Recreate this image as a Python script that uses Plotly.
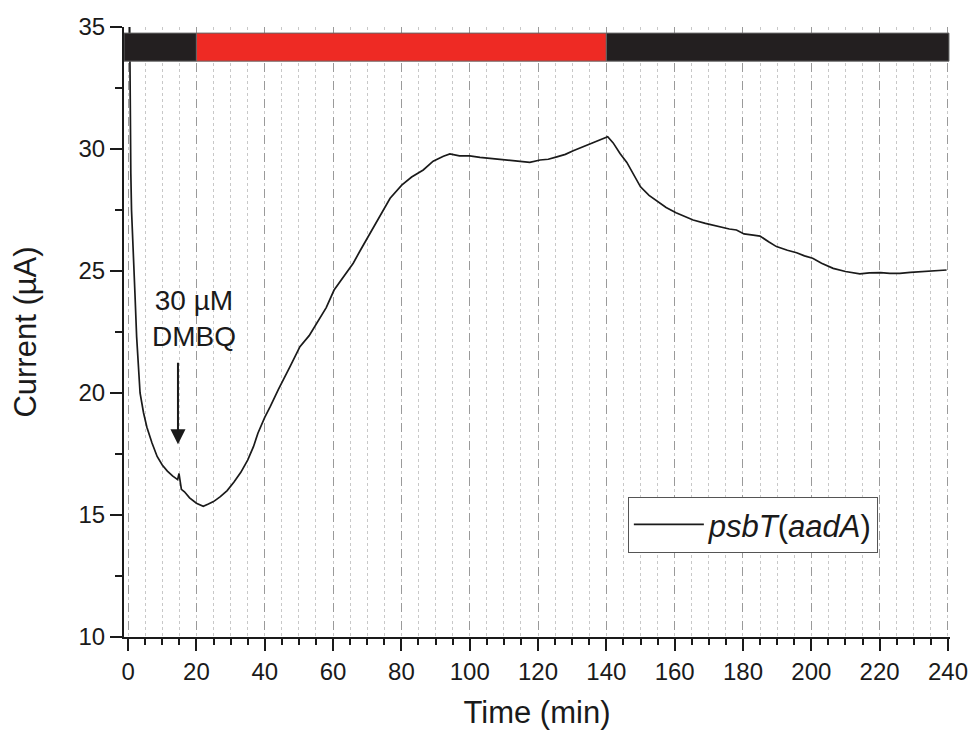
import plotly.graph_objects as go

# Data
time_min = [0.45, 0.6, 0.8, 1.0, 1.3, 1.6, 2.0, 2.5, 3.0, 3.5, 4.5, 5.5, 7.0, 8.5, 10.0, 11.5, 13.0,
            14.5, 14.9, 15.2, 15.6, 16.5, 18.0, 20.0, 21.0, 22.0, 23.5, 25.0, 27.0, 29.0, 31.0,
            33.0, 35.0, 36.7, 38.0, 40.0, 41.6, 44.0, 47.4, 50.3, 53.0, 55.2, 58.0, 60.3, 63.0,
            65.9, 68.0, 70.8, 74.2, 76.7, 80.1, 83.0, 86.4, 89.3, 92.3, 94.2, 97.0, 100.0, 103.0,
            105.9, 109.0, 111.8, 115.0, 117.6, 120.6, 123.0, 125.5, 128.0, 130.3, 133.0, 135.2,
            138.0, 140.4, 142.0, 144.0, 146.0, 147.9, 150.0, 152.5, 155.0, 157.5, 160.4, 163.0,
            165.4, 169.0, 173.3, 176.0, 178.1, 180.3, 183.0, 185.0, 187.5, 189.8, 193.0, 195.7,
            198.0, 200.4, 203.0, 206.4, 210.0, 214.2, 217.0, 220.3, 223.0, 225.9, 229.0, 232.7,
            236.0, 239.6]
current_uA = [35.2, 31.5, 29.0, 27.5, 26.2, 25.3, 24.1, 22.3, 21.0, 20.0, 19.2, 18.6, 17.95, 17.4,
              17.05, 16.8, 16.6, 16.45, 16.7, 16.3, 16.05, 15.95, 15.7, 15.48, 15.42, 15.36, 15.45,
              15.55, 15.75, 16.0, 16.35, 16.75, 17.25, 17.8, 18.35, 19.0, 19.44, 20.15, 21.08, 21.9,
              22.35, 22.86, 23.5, 24.22, 24.75, 25.32, 25.85, 26.54, 27.36, 27.98, 28.52, 28.85,
              29.14, 29.5, 29.7, 29.8, 29.72, 29.72, 29.66, 29.62, 29.58, 29.52, 29.5, 29.45, 29.55,
              29.58, 29.68, 29.78, 29.93, 30.08, 30.23, 30.38, 30.5, 30.25, 29.82, 29.45, 29.0,
              28.45, 28.1, 27.85, 27.6, 27.39, 27.25, 27.09, 26.95, 26.79, 26.72, 26.68, 26.52,
              26.47, 26.43, 26.2, 26.0, 25.85, 25.75, 25.62, 25.52, 25.32, 25.11, 24.98, 24.88,
              24.92, 24.93, 24.9, 24.9, 24.94, 24.97, 25.0, 25.04]

series_name = "<i>psbT</i>(<i>aadA</i>)"
x_ticks = [0, 20, 40, 60, 80, 100, 120, 140, 160, 180, 200, 220, 240]
y_ticks = [10, 15, 20, 25, 30, 35]
# light protocol bar: (start, end, colour)
bar_segments = [(-1.2, 20, "#231f20"), (20, 140, "#ee2a24"), (140, 240.3, "#231f20")]
bar_bottom, bar_top = 33.6, 34.75
arrow_time, arrow_tip, arrow_tail = 14.6, 17.9, 21.3

font_family = "Liberation Sans, Arial, sans-serif"

fig = go.Figure()
fig.add_trace(go.Scatter(x=time_min, y=current_uA, mode="lines", name=series_name,
                         line=dict(color="#1a1a1a", width=1.7)))

for x0, x1, col in bar_segments:
    fig.add_shape(type="rect", xref="x", yref="y", x0=x0, x1=x1, y0=bar_bottom, y1=bar_top,
                  fillcolor=col, line=dict(color="#666666", width=1), layer="above")

fig.add_annotation(x=arrow_time, y=arrow_tip, ax=arrow_time, ay=arrow_tail, xref="x", yref="y",
                   axref="x", ayref="y", showarrow=True, arrowhead=2, arrowsize=1.5,
                   arrowwidth=2, arrowcolor="#1a1a1a", text="")
fig.add_annotation(x=19.3, y=23.05, xref="x", yref="y", text="30 µM<br>DMBQ", showarrow=False,
                   font=dict(family=font_family, size=28, color="#1a1a1a"), align="center")

fig.update_layout(
    width=974, height=733,
    margin=dict(l=124, r=24, t=27, b=96, autoexpand=False),
    paper_bgcolor="white", plot_bgcolor="white",
    font=dict(family=font_family, color="#1a1a1a"),
    showlegend=True,
    legend=dict(x=0.61, y=0.184, xanchor="left", yanchor="middle", itemwidth=70,
                bordercolor="#555555", borderwidth=1, bgcolor="white",
                tracegroupgap=0,
                font=dict(size=31, family=font_family, color="#1a1a1a")),
    xaxis=dict(range=[-1.2, 240.6], tickvals=x_ticks, ticks="outside", ticklen=12, tickwidth=2,
               tickcolor="#1a1a1a", showline=True, linecolor="#1a1a1a", linewidth=2,
               tickfont=dict(size=24), zeroline=False, automargin=False,
               showgrid=True, gridcolor="#9a9a9a", griddash="dash", gridwidth=1.2,
               minor=dict(dtick=5, tick0=0, ticks="outside", ticklen=6, tickwidth=2,
                          tickcolor="#1a1a1a", showgrid=True, gridcolor="#c8c8c8",
                          griddash="dot", gridwidth=1),
               title=dict(text="Time (min)", font=dict(size=31), standoff=18)),
    yaxis=dict(range=[10, 35], tickvals=y_ticks, ticks="outside", ticklen=12, tickwidth=2,
               tickcolor="#1a1a1a", showline=True, linecolor="#1a1a1a", linewidth=2,
               tickfont=dict(size=24), zeroline=False, showgrid=False, automargin=False,
               minor=dict(dtick=2.5, tick0=10, ticks="outside", ticklen=7, tickwidth=2,
                          tickcolor="#1a1a1a", showgrid=False),
               title=dict(text="Current (µA)", font=dict(size=31), standoff=33)),
)

fig.write_html("out.html")
